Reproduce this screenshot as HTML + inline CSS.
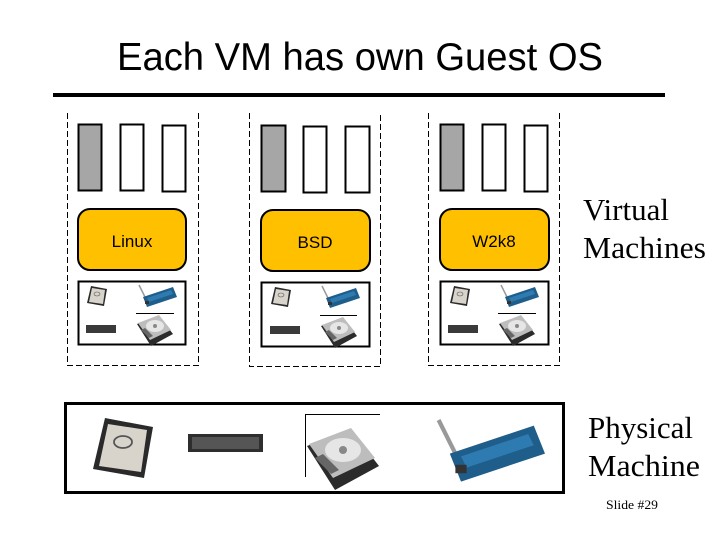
<!DOCTYPE html>
<html><head><meta charset="utf-8"><style>
html,body{margin:0;padding:0;background:#fff;}
svg{display:block;}
</style></head><body>
<svg width="720" height="540" viewBox="0 0 720 540" xmlns="http://www.w3.org/2000/svg">
<defs>
  <g id="cpu">
    <polygon points="4,0 20,3 17,20 0,17" fill="#2a2a2a"/>
    <polygon points="5,2 18,4 16,18 2,16" fill="#d8d4cc"/>
    <ellipse cx="10" cy="8" rx="3" ry="2" fill="none" stroke="#555" stroke-width="0.6"/>
  </g>
  <g id="nic">
    <line x1="2" y1="0" x2="8" y2="12" stroke="#999" stroke-width="1.5"/>
    <polygon points="6,12 36,2 40,12 10,22" fill="#1f5d8a"/>
    <polygon points="10,13 34,5 36,9 12,17" fill="#2d7bb0"/>
    <rect x="8" y="16" width="4" height="3" fill="#333"/>
  </g>
  <g id="hdd">
    <polygon points="0,8 22,0 36,18 14,30" fill="#2b2b2b"/>
    <polygon points="1,7 22,-1 34,14 13,24" fill="#bdbdbd"/>
    <ellipse cx="18" cy="10" rx="9" ry="6" fill="#e6e6e6"/>
    <circle cx="18" cy="10" r="2" fill="#888"/>
    <polygon points="4,14 12,22 16,20 8,12" fill="#666"/>
  </g>
</defs>

<text x="360" y="70" font-family="Liberation Sans, sans-serif" font-size="39" text-anchor="middle" textLength="486" lengthAdjust="spacingAndGlyphs" fill="#000">Each VM has own Guest OS</text>
<rect x="53" y="93" width="612" height="4" fill="#000"/>

<!-- VM 1 -->
<g>
  <path d="M67.5,113 V365.5 H198.5 V113" fill="none" stroke="#000" stroke-width="1" stroke-dasharray="6,3"/>
  <rect x="78.5" y="124.5" width="23" height="66" fill="#a6a6a6" stroke="#000" stroke-width="2"/>
  <rect x="120.5" y="124.5" width="23" height="66" fill="#fff" stroke="#000" stroke-width="2"/>
  <rect x="162.5" y="125.5" width="23" height="66" fill="#fff" stroke="#000" stroke-width="2"/>
  <rect x="78" y="209" width="108" height="61" rx="12" fill="#ffc000" stroke="#000" stroke-width="2"/>
  <text x="132" y="247" font-family="Liberation Sans, sans-serif" font-size="17" text-anchor="middle">Linux</text>
  <rect x="78.5" y="281.5" width="107" height="63" fill="#fff" stroke="#000" stroke-width="2"/>
  <use href="#cpu" x="87" y="286"/>
  <use href="#nic" x="137" y="285"/>
  <line x1="136" y1="313.5" x2="174" y2="313.5" stroke="#000" stroke-width="1"/>
  <rect x="86" y="325" width="30" height="8" fill="#3a3a3a"/>
  <use href="#hdd" x="137" y="316"/>
</g>

<!-- VM 2 -->
<g>
  <path d="M249.5,113 V366.5 H380.5 V113" fill="none" stroke="#000" stroke-width="1" stroke-dasharray="6,3"/>
  <rect x="261.5" y="125.5" width="24" height="66" fill="#a6a6a6" stroke="#000" stroke-width="2"/>
  <rect x="303.5" y="126.5" width="23" height="66" fill="#fff" stroke="#000" stroke-width="2"/>
  <rect x="345.5" y="126.5" width="24" height="66" fill="#fff" stroke="#000" stroke-width="2"/>
  <rect x="261" y="210" width="109" height="61" rx="12" fill="#ffc000" stroke="#000" stroke-width="2"/>
  <text x="315" y="248" font-family="Liberation Sans, sans-serif" font-size="17" text-anchor="middle">BSD</text>
  <rect x="261.5" y="282.5" width="108" height="64" fill="#fff" stroke="#000" stroke-width="2"/>
  <use href="#cpu" x="271" y="287"/>
  <use href="#nic" x="320" y="286"/>
  <line x1="320" y1="315.5" x2="357" y2="315.5" stroke="#000" stroke-width="1"/>
  <rect x="270" y="326" width="30" height="8" fill="#3a3a3a"/>
  <use href="#hdd" x="321" y="318"/>
</g>

<!-- VM 3 -->
<g>
  <path d="M428.5,113 V365.5 H559.5 V113" fill="none" stroke="#000" stroke-width="1" stroke-dasharray="6,3"/>
  <rect x="440.5" y="124.5" width="23" height="66" fill="#a6a6a6" stroke="#000" stroke-width="2"/>
  <rect x="482.5" y="124.5" width="23" height="66" fill="#fff" stroke="#000" stroke-width="2"/>
  <rect x="524.5" y="125.5" width="23" height="66" fill="#fff" stroke="#000" stroke-width="2"/>
  <rect x="440" y="209" width="109" height="61" rx="12" fill="#ffc000" stroke="#000" stroke-width="2"/>
  <text x="494" y="247" font-family="Liberation Sans, sans-serif" font-size="17" text-anchor="middle">W2k8</text>
  <rect x="440.5" y="281.5" width="108" height="63" fill="#fff" stroke="#000" stroke-width="2"/>
  <use href="#cpu" x="450" y="286"/>
  <use href="#nic" x="499" y="285"/>
  <line x1="498" y1="313.5" x2="536" y2="313.5" stroke="#000" stroke-width="1"/>
  <rect x="448" y="325" width="30" height="8" fill="#3a3a3a"/>
  <use href="#hdd" x="499" y="316"/>
</g>

<text x="583" y="220" font-family="Liberation Serif, serif" font-size="31">Virtual</text>
<text x="583" y="258" font-family="Liberation Serif, serif" font-size="31" textLength="123" lengthAdjust="spacingAndGlyphs">Machines</text>

<!-- Physical -->
<rect x="65.5" y="403.5" width="498" height="89" fill="#fff" stroke="#000" stroke-width="3"/>
<use href="#cpu" transform="translate(93,418) scale(3)"/>
<rect x="188" y="434" width="75" height="18" fill="#2e2e2e"/>
<rect x="192" y="437" width="67" height="12" fill="#555"/>
<line x1="305" y1="414.5" x2="380" y2="414.5" stroke="#000" stroke-width="1"/>
<line x1="305.5" y1="414" x2="305.5" y2="477" stroke="#000" stroke-width="1"/>
<use href="#hdd" transform="translate(307,430) scale(2)"/>
<use href="#nic" transform="translate(433,420) scale(2.8)"/>

<text x="588" y="438" font-family="Liberation Serif, serif" font-size="31">Physical</text>
<text x="588" y="476" font-family="Liberation Serif, serif" font-size="31" textLength="112" lengthAdjust="spacingAndGlyphs">Machine</text>
<text x="606" y="509" font-family="Liberation Serif, serif" font-size="13" textLength="52" lengthAdjust="spacingAndGlyphs">Slide #29</text>
</svg>
</body></html>
